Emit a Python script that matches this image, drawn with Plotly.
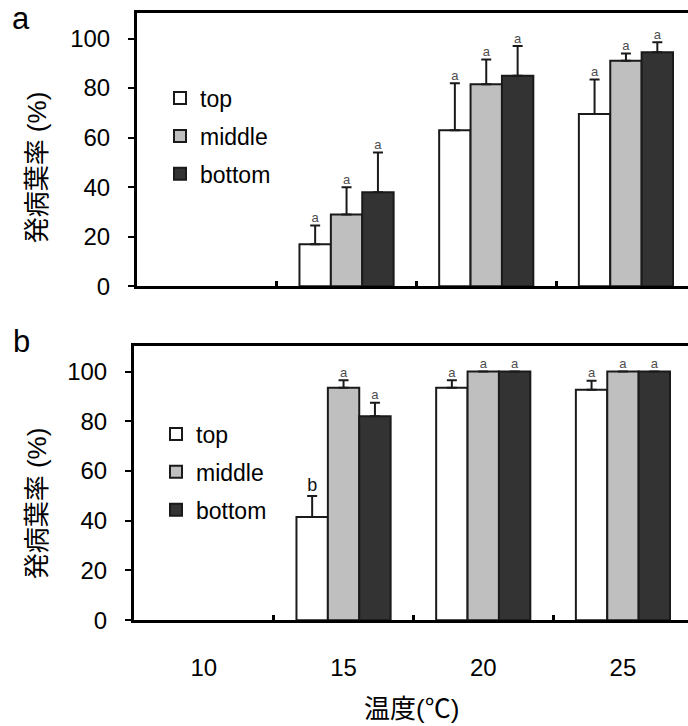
import plotly.graph_objects as go

# Temperature categories (°C) and leaf positions
temps = ["10", "15", "20", "25"]
positions = ["top", "middle", "bottom"]
bar_colors = ["#ffffff", "#bfbfbf", "#323332"]

# Panel a: diseased leaf rate (%) with upper error (SD); no data at 10 °C
a_top = [None, 17, 63, 69.5]
a_top_err = [None, 7.5, 19, 14]
a_mid = [None, 29, 81.5, 91]
a_mid_err = [None, 11, 10, 3]
a_bot = [None, 38, 85, 94.5]
a_bot_err = [None, 16, 12, 4]
a_top_sig = ["", "a", "a", "a"]
a_mid_sig = ["", "a", "a", "a"]
a_bot_sig = ["", "a", "a", "a"]

# Panel b
b_top = [None, 41.5, 93.5, 92.7]
b_top_err = [None, 8.5, 3, 3.6]
b_mid = [None, 93.5, 100, 100]
b_mid_err = [None, 3, 0, 0]
b_bot = [None, 82, 100, 100]
b_bot_err = [None, 5.5, 0, 0]
b_top_sig = ["", "b", "a", "a"]
b_mid_sig = ["", "a", "a", "a"]
b_bot_sig = ["", "a", "a", "a"]

W, H = 688, 726
FONT = "Liberation Sans, Arial, Noto Sans CJK JP, sans-serif"
BARGAP = 0.326
xs = list(range(len(temps)))
bw = (1 - BARGAP) / 3
offsets = [-bw, 0.0, bw]

fig = go.Figure()


def add_panel(vals, errs, sigs, xa, ya, legend_name, tag):
    for k in range(3):
        fig.add_trace(go.Bar(
            x=xs, y=vals[k], name=positions[k],
            marker=dict(color=bar_colors[k], line=dict(color="#1a1a1a", width=2)),
            error_y=dict(type="data", array=errs[k],
                         arrayminus=[0 if v is not None else None for v in vals[k]],
                         symmetric=False, color="#1a1a1a", thickness=2, width=5),
            xaxis=xa, yaxis=ya, legend=legend_name,
            legendgroup=f"{tag}{k}", showlegend=True,
        ))
    # significance letters above each error bar
    for k in range(3):
        tx, ty, tt, ts, tc = [], [], [], [], []
        for i in xs:
            if vals[k][i] is None:
                continue
            tx.append(i + offsets[k])
            ty.append(vals[k][i] + errs[k][i])
            tt.append(sigs[k][i])
            big = sigs[k][i] == "b"
            ts.append(18 if big else 13)
            tc.append("#111111" if big else "#4d4d4d")
        fig.add_trace(go.Scatter(
            x=tx, y=ty, text=tt, mode="text", textposition="top center",
            textfont=dict(family=FONT, size=ts, color=tc),
            xaxis=xa, yaxis=ya, showlegend=False, hoverinfo="skip",
        ))


add_panel([a_top, a_mid, a_bot], [a_top_err, a_mid_err, a_bot_err],
          [a_top_sig, a_mid_sig, a_bot_sig], "x", "y", "legend", "a")
add_panel([b_top, b_mid, b_bot], [b_top_err, b_mid_err, b_bot_err],
          [b_top_sig, b_mid_sig, b_bot_sig], "x2", "y2", "legend2", "b")

YMAX = 110.4


def xaxis_cfg(left_px, labels):
    return dict(
        domain=[left_px / W, 1], range=[-0.5, -0.5 + (W - left_px) / 139.7],
        showline=True, linecolor="black", linewidth=3, mirror=True,
        tickvals=xs, ticktext=temps, ticks="", showticklabels=labels,
        ticklabelstandoff=24,
        tickfont=dict(family=FONT, size=24, color="black"),
        minor=dict(tickvals=[0.5, 1.5, 2.5], ticks="inside", ticklen=5,
                   tickwidth=3, tickcolor="black", showgrid=False),
        showgrid=False, zeroline=False, fixedrange=True,
    )


def yaxis_cfg(top_px, bot_px, anchor):
    return dict(
        domain=[1 - bot_px / H, 1 - top_px / H], range=[0, YMAX], anchor=anchor,
        showline=True, linecolor="black", linewidth=3, mirror=False,
        tickvals=[0, 20, 40, 60, 80, 100], ticks="outside", ticklen=6,
        tickwidth=2, tickcolor="black", ticklabelstandoff=13,
        tickfont=dict(family=FONT, size=24, color="black"),
        showgrid=False, zeroline=False, fixedrange=True,
    )


legend_common = dict(
    font=dict(family=FONT, size=23, color="black"), bgcolor="rgba(0,0,0,0)",
    borderwidth=0, xanchor="left", yanchor="top", tracegroupgap=5,
    itemclick=False, itemdoubleclick=False,
)

fig.update_layout(
    width=W, height=H, margin=dict(l=0, r=0, t=0, b=0),
    paper_bgcolor="white", plot_bgcolor="white",
    barmode="group", bargap=BARGAP, bargroupgap=0,
    xaxis=dict(anchor="y", **xaxis_cfg(137, False)),
    yaxis=yaxis_cfg(13, 291.5, "x"),
    xaxis2=dict(anchor="y2", **xaxis_cfg(134, True)),
    yaxis2=yaxis_cfg(352, 631.5, "x2"),
    legend=dict(x=160 / W, y=1 - 78 / H, **legend_common),
    legend2=dict(x=156 / W, y=1 - 420 / H, **legend_common),
    showlegend=True,
)

ytitle = "発病葉率 (%)"
annotations = [
    dict(text=ytitle, x=37 / W, xref="paper", y=48, yref="y", textangle=-90,
         showarrow=False, xanchor="center", yanchor="middle",
         font=dict(family=FONT, size=26, color="black")),
    dict(text=ytitle, x=37 / W, xref="paper", y=47, yref="y2", textangle=-90,
         showarrow=False, xanchor="center", yanchor="middle",
         font=dict(family=FONT, size=26, color="black")),
    dict(text="温度(℃)", x=412 / W, xref="paper", y=1 - 722 / H, yref="paper",
         showarrow=False, xanchor="center", yanchor="middle",
         font=dict(family=FONT, size=26, color="black")),
    dict(text="a", x=21 / W, xref="paper", y=1 - 19 / H, yref="paper",
         showarrow=False, xanchor="center", yanchor="middle",
         font=dict(family=FONT, size=31, color="black")),
    dict(text="b", x=21 / W, xref="paper", y=1 - 348 / H, yref="paper",
         showarrow=False, xanchor="center", yanchor="middle",
         font=dict(family=FONT, size=31, color="black")),
]
fig.update_layout(annotations=annotations)

fig.write_html("out.html", config=dict(displayModeBar=False))
